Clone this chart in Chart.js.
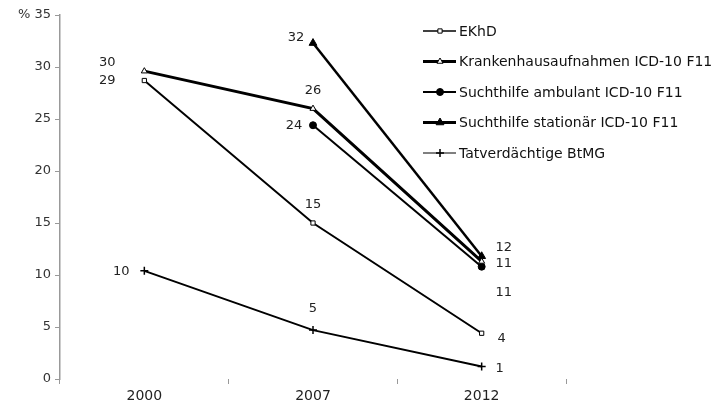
<!DOCTYPE html>
<html lang="de">
<head>
<meta charset="UTF-8">
<title>Indikatoren Opioide</title>
<script src="https://cdn.jsdelivr.net/npm/chart.js"></script>
<style>
  html, body { margin: 0; padding: 0; background: #fff; }
  .wrap { width: 724px; height: 409px; }
</style>
</head>
<body>
<div class="wrap"><canvas id="myChart" width="724" height="409"></canvas></div>
<script>
const years = ['2000', '2007', '2012'];
const seriesNames = ['EKhD', 'Krankenhausaufnahmen ICD-10 F11', 'Suchthilfe ambulant ICD-10 F11', 'Suchthilfe stationär ICD-10 F11', 'Tatverdächtige BtMG'];
const ekhd = [28.7, 15.0, 4.4];
const krankenhaus = [29.6, 26.0, 11.3];
const ambulant = [null, 24.4, 10.8];
const stationaer = [null, 32.3, 11.8];
const tatverdaechtige = [10.4, 4.7, 1.2];
const yMax = 35;

// where the value labels sit relative to their point (dx, dy per year)
const labelOffsets = [
    [[-37, 0], [0, -18], [20, 5]],
    [[-37, -9], [0, -18], [22, 2]],
    [null, [-19, 0], [22, 26]],
    [null, [-17, -5], [22, -9]],
    [[-23, 1], [0, -21], [18, 2]]
];

// legend line widths differ a bit from the plotted ones
const legendWidths = [1.5, 3, 2, 3, 1];

const FONT = 'DejaVu Sans, sans-serif';

const valueLabels = {
    id: 'valueLabels',
    afterDatasetsDraw(chart) {
        const ctx = chart.ctx;
        ctx.save();
        ctx.font = '13px ' + FONT;
        ctx.fillStyle = '#222';
        ctx.textAlign = 'center';
        ctx.textBaseline = 'middle';
        chart.data.datasets.forEach((ds, i) => {
            const meta = chart.getDatasetMeta(i);
            meta.data.forEach((pt, j) => {
                const v = ds.data[j];
                if (v === null || !labelOffsets[i][j]) return;
                const off = labelOffsets[i][j];
                ctx.fillText(String(Math.round(v)), pt.x + off[0], pt.y + off[1]);
            });
        });
        ctx.restore();
    }
};

const sideLegend = {
    id: 'sideLegend',
    afterDraw(chart) {
        const ctx = chart.ctx;
        ctx.save();
        chart.data.datasets.forEach((ds, i) => {
            const y = 31 + i * 30.5;
            ctx.strokeStyle = '#000';
            ctx.lineWidth = legendWidths[i];
            ctx.beginPath();
            ctx.moveTo(423, y);
            ctx.lineTo(456, y);
            ctx.stroke();
            ctx.fillStyle = ds.pointBackgroundColor;
            ctx.lineWidth = ds.pointBorderWidth;
            Chart.helpers.drawPoint(ctx, {
                pointStyle: ds.pointStyle,
                radius: ds.pointRadius,
                rotation: 0,
                borderWidth: ds.pointBorderWidth
            }, 440, y);
            ctx.font = '14px ' + FONT;
            ctx.fillStyle = '#111';
            ctx.textAlign = 'left';
            ctx.textBaseline = 'middle';
            ctx.fillText(ds.label, 459, y + 1);
        });
        ctx.restore();
    }
};

function line(label, data, width, style, radius, fill, pbw) {
    return {
        label: label,
        data: data,
        borderColor: '#000',
        borderWidth: width,
        pointStyle: style,
        pointRadius: radius,
        pointBackgroundColor: fill,
        pointBorderColor: '#000',
        pointBorderWidth: pbw,
        tension: 0,
        fill: false
    };
}

new Chart(document.getElementById('myChart'), {
    type: 'line',
    data: {
        labels: years,
        datasets: [
            line(seriesNames[0], ekhd, 2, 'rect', 3, '#fff', 1),
            line(seriesNames[1], krankenhaus, 3, 'triangle', 3.5, '#fff', 1),
            line(seriesNames[2], ambulant, 2, 'circle', 3.5, '#000', 1),
            line(seriesNames[3], stationaer, 2.5, 'triangle', 4.5, '#000', 1),
            line(seriesNames[4], tatverdaechtige, 2, 'cross', 4, '#000', 1.5)
        ]
    },
    options: {
        responsive: false,
        animation: false,
        layout: { padding: { left: 0, top: 15, right: 158, bottom: 0 } },
        plugins: {
            legend: { display: false },
            tooltip: { enabled: false }
        },
        scales: {
            x: {
                offset: true,
                afterFit: s => { s.height = 30; },
                grid: { offset: true, drawOnChartArea: false, tickLength: 5, color: '#999', lineWidth: 1 },
                border: { display: false },
                ticks: { color: '#222', font: { family: FONT, size: 14 }, padding: 4 }
            },
            y: {
                min: 0,
                max: yMax,
                afterFit: s => { s.width = 60; },
                grid: { drawOnChartArea: false, tickLength: 5, color: '#999' },
                border: { display: true, color: '#999', width: 1.5 },
                ticks: {
                    stepSize: 5,
                    color: '#333',
                    padding: 4,
                    font: { family: FONT, size: 13 },
                    callback: v => v === yMax ? '% ' + v : v
                }
            }
        }
    },
    plugins: [valueLabels, sideLegend]
});
</script>
</body>
</html>
